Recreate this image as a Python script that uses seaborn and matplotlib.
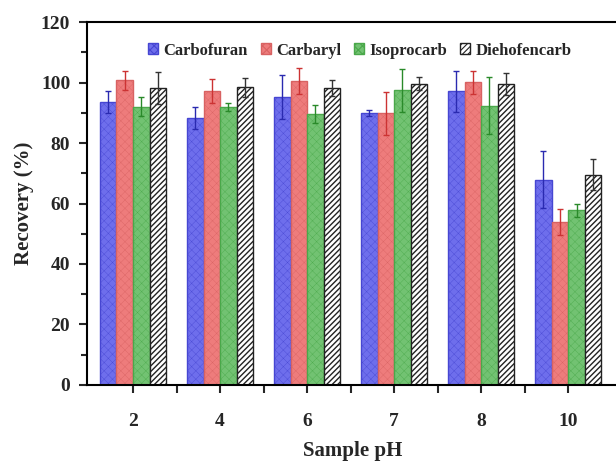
import numpy as np
import pandas as pd
import matplotlib
matplotlib.use('Agg')
import matplotlib.pyplot as plt
import seaborn as sns
from matplotlib.patches import Patch
from matplotlib.ticker import MultipleLocator, FixedLocator

# Data
ph_labels = ['2', '4', '6', '7', '8', '10']
compounds = ['Carbofuran', 'Carbaryl', 'Isoprocarb', 'Diehofencarb']

carbofuran = [93.5, 88.2, 95.3, 89.8, 97.1, 67.9]
carbaryl = [100.7, 97.3, 100.5, 89.8, 100.1, 53.9]
isoprocarb = [92.0, 92.0, 89.7, 97.5, 92.3, 57.8]
diehofencarb = [98.1, 98.5, 98.3, 99.6, 99.5, 69.5]

carbofuran_err = [3.6, 3.6, 7.2, 1.0, 6.8, 9.4]
carbaryl_err = [3.0, 4.0, 4.2, 7.2, 3.9, 4.4]
isoprocarb_err = [3.2, 1.4, 2.9, 7.1, 9.4, 2.2]
diehofencarb_err = [5.3, 3.1, 2.7, 2.1, 3.7, 5.1]

values = [carbofuran, carbaryl, isoprocarb, diehofencarb]
errors = [carbofuran_err, carbaryl_err, isoprocarb_err, diehofencarb_err]

df = pd.DataFrame({
    'pH': ph_labels * len(compounds),
    'Compound': np.repeat(compounds, len(ph_labels)),
    'Recovery': np.concatenate(values),
})

# Styling
fills = ['#6e6eec', '#ee7c7c', '#72c272', '#ffffff']
edges = ['#4646d2', '#d86262', '#4aa84a', '#222222']
err_colors = ['#2a2ab0', '#cc3333', '#2a8a2a', '#333333']
hatches = ['xxxx', 'xxxx', 'xxxx', '//////']
hatch_lw = [0.25, 0.25, 0.25, 1.0]

sns.set_theme(style='ticks')
plt.rcParams['font.family'] = ['Liberation Serif', 'DejaVu Serif']
plt.rcParams['font.weight'] = 'bold'
plt.rcParams['hatch.linewidth'] = 0.8

fig = plt.figure(figsize=(6.16, 4.61), dpi=100)
ax = fig.add_axes([0.141, 0.165, 0.862, 0.787])

sns.barplot(data=df, x='pH', y='Recovery', hue='Compound', order=ph_labels,
            hue_order=compounds, palette=fills, saturation=1, width=0.76,
            errorbar=None, legend=False, ax=ax)

# Hatching, outlines and error bars for each compound
bar_groups = list(ax.containers)
for i, cont in enumerate(bar_groups):
    for bar, err in zip(cont, errors[i]):
        bar.set_edgecolor(edges[i])
        bar.set_hatch(hatches[i])
        if hasattr(bar, 'set_hatch_linewidth'):
            bar.set_hatch_linewidth(hatch_lw[i])
        bar.set_linewidth(1.0)
        x = bar.get_x() + bar.get_width() / 2
        ax.errorbar(x, bar.get_height(), yerr=err, color=err_colors[i],
                    elinewidth=1, capsize=2, capthick=1)

ax.set_ylim(0, 120)
ax.set_xlim(-0.53, 5.57)
ax.yaxis.set_major_locator(MultipleLocator(20))
ax.yaxis.set_minor_locator(MultipleLocator(10))
ax.xaxis.set_minor_locator(FixedLocator(np.arange(0.5, 5.5, 1.0)))
ax.tick_params(axis='both', which='major', direction='out', length=6, width=1.5,
               labelsize=14, pad=6)
ax.tick_params(axis='y', which='minor', direction='out', length=4, width=1.5)
ax.tick_params(axis='x', which='minor', direction='out', length=6, width=1.5)
ax.tick_params(axis='x', which='major', pad=14)
for s in ax.spines.values():
    s.set_linewidth(1.5)
    s.set_color('black')

ax.set_xlabel('Sample pH', fontsize=15, fontweight='bold', labelpad=8)
ax.set_ylabel('Recovery (%)', fontsize=15, fontweight='bold', labelpad=5)

handles = [Patch(facecolor=fills[i], edgecolor=edges[i], hatch=hatches[i])
           for i in range(len(compounds))]
ax.legend(handles, compounds, loc='upper center', bbox_to_anchor=(0.514, 0.985),
          ncol=4, frameon=False, handlelength=0.6, handleheight=0.6,
          handletextpad=0.3, columnspacing=0.8, prop={'weight': 'bold', 'size': 12})

fig.savefig('out.png', dpi=100)
